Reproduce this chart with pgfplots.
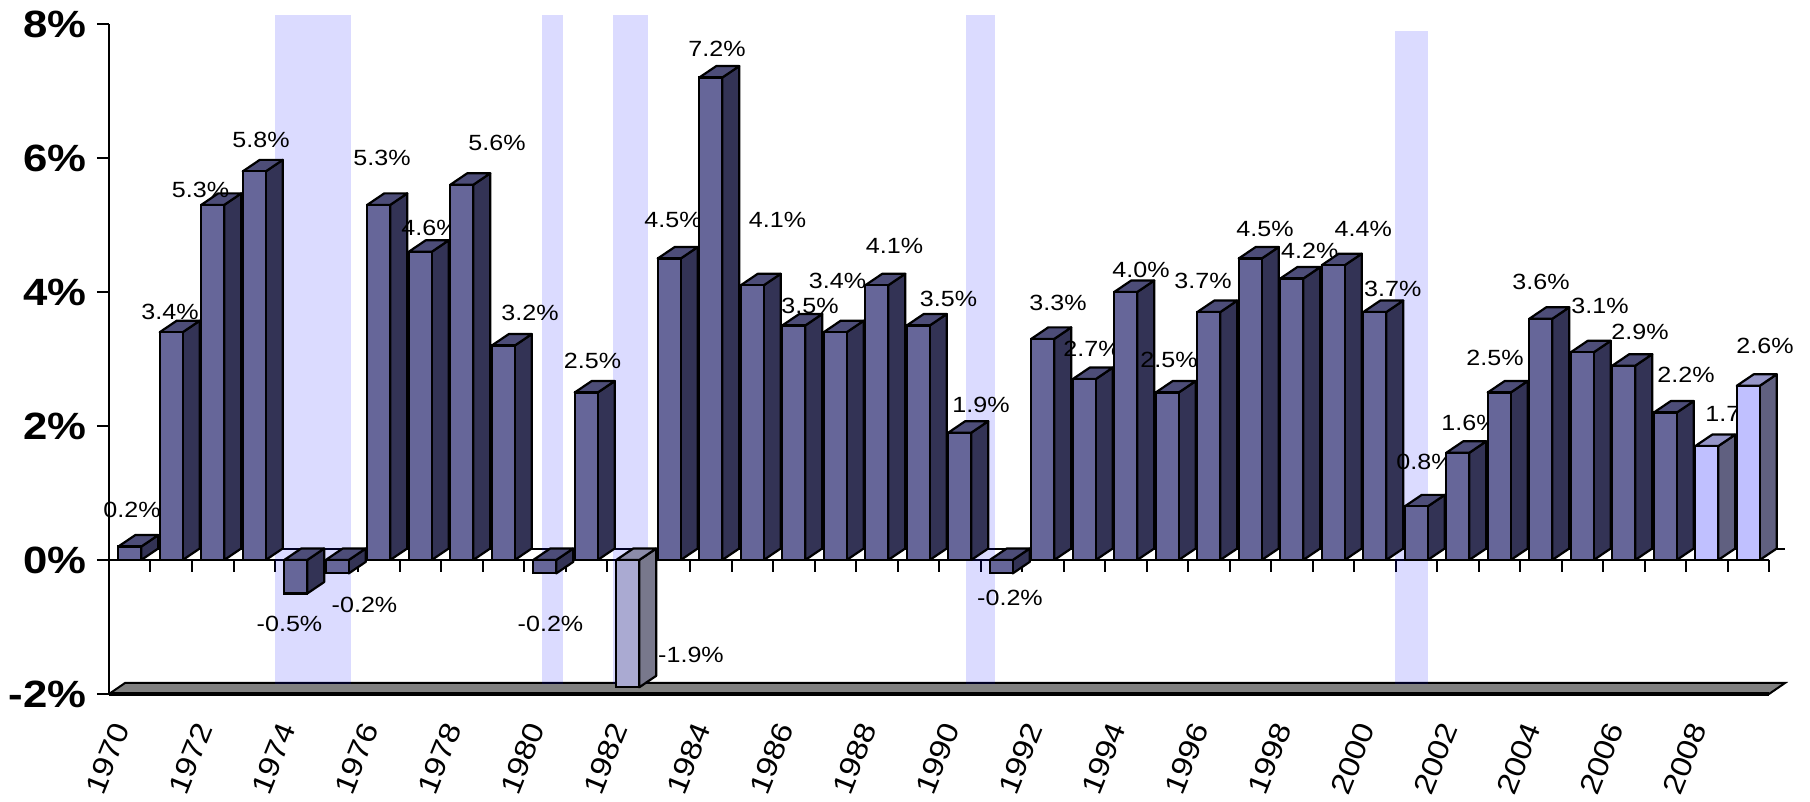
\documentclass[border=0pt]{standalone}
\usepackage{pgfplots}
\pgfplotsset{compat=1.18}
\usepackage{fontspec}
\setmainfont{Liberation Sans}

\definecolor{bF}{RGB}{102,102,153}
\definecolor{bS}{RGB}{51,51,85}
\definecolor{bT}{RGB}{77,77,120}
\definecolor{fF}{RGB}{192,192,255}
\definecolor{fS}{RGB}{96,96,128}
\definecolor{fT}{RGB}{150,150,200}
\definecolor{gF}{RGB}{170,170,210}
\definecolor{gS}{RGB}{120,120,140}
\definecolor{gT}{RGB}{140,140,170}
\definecolor{floorg}{RGB}{128,128,128}
\definecolor{band}{RGB}{0,0,255}

\pgfdeclareplotmark{nothing}{}

% meta = label/class/label dx/label dy   (class 0 actual, 1 forecast, 2 pale; offsets in px)
\def\gdpparse#1/#2/#3/#4\relax{\def\bval{#1}\def\bcls{#2}\def\blx{#3}\def\bly{#4}}
\newcommand\gdpbox{%
  \expandafter\gdpparse\pgfplotspointmeta\relax
  \pgfmathsetmacro\hz{0-(\bval)*33.5}%
  \pgfmathsetmacro\yt{max(0,\hz)}%
  \pgfmathsetmacro\yb{min(0,\hz)}%
  \ifnum\bcls=1 \def\cF{fF}\def\cS{fS}\def\cT{fT}%
  \else\ifnum\bcls=2 \def\cF{gF}\def\cS{gS}\def\cT{gT}%
  \else\def\cF{bF}\def\cS{bS}\def\cT{bT}\fi\fi
  \draw[line width=1.1pt, line join=round, fill=\cS]
    (5.75pt,\yb pt) -- (14.25pt,\yb pt+5.75pt) -- (14.25pt,\yt pt+5.75pt) -- (5.75pt,\yt pt) -- cycle;
  \draw[line width=1.1pt, line join=round, fill=\cT]
    (-5.75pt,\yt pt) -- (5.75pt,\yt pt) -- (14.25pt,\yt pt+5.75pt) -- (2.75pt,\yt pt+5.75pt) -- cycle;
  \draw[line width=1.1pt, fill=\cF] (-5.75pt,\yb pt) rectangle (5.75pt,\yt pt);
  \node[font=\fontsize{11}{13}\selectfont, xscale=1.14, inner sep=0pt, text=black]
    at (\blx*0.5pt,\bly*0.5pt) {\bval\%};
}

\begin{document}
\begin{tikzpicture}
\begin{axis}[
  at={(0,0)}, anchor=south west,
  x=20.75pt, y=33.5pt,
  xmin=-0.5, xmax=39.5, ymin=-2, ymax=8,
  clip=false,
  axis x line*=bottom, axis y line*=left,
  axis line style={line width=1pt},
  tick style={black, line width=1pt},
  major tick length=6pt, minor tick length=6pt,
  tick align=outside,
  xtick=\empty,
  minor xtick={-0.5,0.5,...,39.5},
  extra x ticks={0,2,...,38},
  extra x tick labels={1970,1972,1974,1976,1978,1980,1982,1984,1986,1988,1990,1992,1994,1996,1998,2000,2002,2004,2006,2008},
  extra x tick style={major tick length=0pt,
    xticklabel style={xshift=-4pt, yshift=-15pt, rotate=68, xscale=1.15, anchor=east, inner sep=0pt,
      font=\fontsize{14.5}{15}\selectfont}},
  ytick={-2,0,...,8},
  yticklabel={\pgfmathprintnumber[assume math mode=true]{\tick}\%},
  yticklabel style={font=\fontsize{19}{19}\selectfont\bfseries, xscale=1.15, inner sep=0pt, xshift=-4.5pt},
]
% floor at -2%
\draw[fill=floorg, line width=1pt] (axis cs:-0.5,-2) -- (axis cs:39.5,-2)
  -- ([shift={(8pt,5.5pt)}]axis cs:39.5,-2) -- ([shift={(8pt,5.5pt)}]axis cs:-0.5,-2) -- cycle;
\draw[line width=2pt] (axis cs:-0.5,-2) -- (axis cs:39.5,-2);
% zero plane
\draw[line width=1pt] ([shift={(8pt,5.5pt)}]axis cs:-0.5,0) -- ([shift={(8pt,5.5pt)}]axis cs:39.5,0);
\draw[line width=1pt] (axis cs:-0.5,0) -- (axis cs:39.5,0);
\pgfplotsinvokeforeach{-0.5,0.5,...,39.5}{
  \draw[line width=1pt] (axis cs:#1,0) -- ++(0pt,-6pt);
}

\addplot[scatter, only marks, mark=nothing, black,
  point meta=explicit symbolic,
  scatter/@pre marker code/.code={\gdpbox},
  scatter/@post marker code/.code={},
] coordinates {
(0,0.2) [0.2/0/2.25/37.1]
(1,3.4) [3.4/0/-1.25/20.2]
(2,5.3) [5.3/0/-12.25/15.4]
(3,5.8) [5.8/0/6.75/31.9]
(4,-0.5) [-0.5/0/-6.25/-30]
(5,-0.2) [-0.2/0/27.25/-31.1]
(6,5.3) [5.3/0/3.25/46.9]
(7,4.6) [4.6/0/9.75/23.8]
(8,5.6) [5.6/0/35.25/41.8]
(9,3.2) [3.2/0/26.75/33.1]
(10,-0.2) [-0.2/0/5.75/-50.1]
(11,2.5) [2.5/0/6.25/32]
(12,-1.9) [-1.9/2/63.25/32.3]
(13,4.5) [4.5/0/3.75/38.5]
(14,7.2) [7.2/0/6.25/28.6]
(15,4.1) [4.1/0/25.25/65.3]
(16,3.5) [3.5/0/16.25/19.5]
(17,3.4) [3.4/0/2.25/51.2]
(18,4.1) [4.1/0/17.75/39.3]
(19,3.5) [3.5/0/30.25/26.5]
(20,1.9) [1.9/0/21.25/27.7]
(21,-0.2) [-0.2/0/8.75/-24.6]
(22,3.3) [3.3/0/15.25/36.4]
(23,2.7) [2.7/0/7.75/30.1]
(24,4.0) [4.0/0/15.25/22.5]
(25,2.5) [2.5/0/1.75/33]
(26,3.7) [3.7/0/-5.75/31.6]
(27,4.5) [4.5/0/14.75/29.5]
(28,4.2) [4.2/0/18/27.6]
(29,4.4) [4.4/0/30/36]
(30,3.7) [3.7/0/18/23]
(31,0.8) [0.8/0/8.75/44.9]
(32,1.6) [1.6/0/12.25/30.3]
(33,2.5) [2.5/0/-4.25/35]
(34,3.6) [3.6/0/0.25/37.3]
(35,3.1) [3.1/0/17.75/46.3]
(36,2.9) [2.9/0/16.25/34.2]
(37,2.2) [2.2/0/20.75/37.6]
(38,1.7) [1.7/1/27.25/32.1]
(39,2.6) [2.6/1/16.75/39.8]
};

% recessions
\fill[band, fill opacity=0.14] (axis cs:3.5,-1.85) rectangle (axis cs:5.33,8.13);
\fill[band, fill opacity=0.14] (axis cs:9.93,-1.85) rectangle (axis cs:10.44,8.13);
\fill[band, fill opacity=0.14] (axis cs:11.64,-1.85) rectangle (axis cs:12.49,8.13);
\fill[band, fill opacity=0.14] (axis cs:20.15,-1.85) rectangle (axis cs:20.85,8.13);
\fill[band, fill opacity=0.14] (axis cs:30.49,-1.85) rectangle (axis cs:31.28,7.9);
\end{axis}
\pgfresetboundingbox
\path[use as bounding box] (-54.5pt,-54pt) rectangle (850.5pt,347pt);
\end{tikzpicture}
\end{document}
